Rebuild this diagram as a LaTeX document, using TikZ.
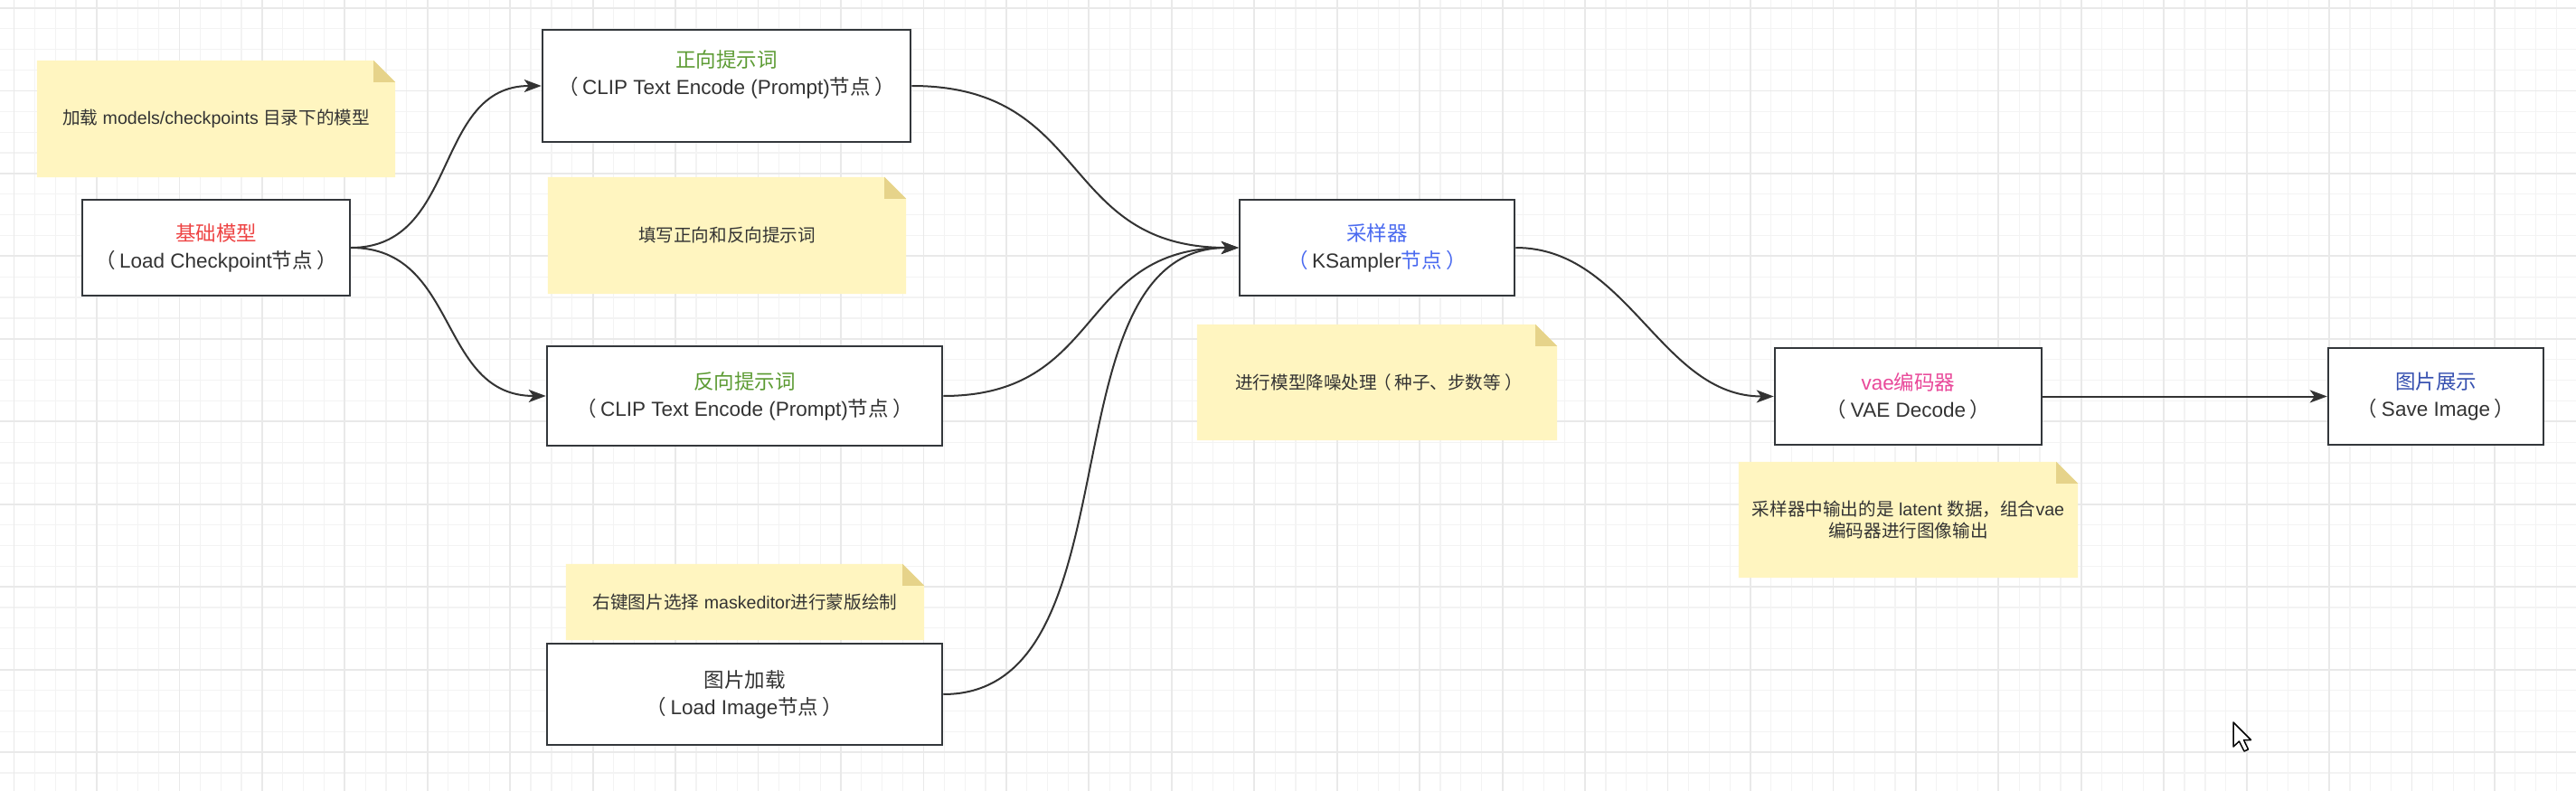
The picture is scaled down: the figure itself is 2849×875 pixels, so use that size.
\documentclass[tikz,border=0pt]{standalone}
\usepackage{fontspec}
\setmainfont{Liberation Sans}
\newfontfamily\cjk{Noto Sans CJK SC}
\newcommand{\lpar}{{\cjk\kern-0.2em（\kern0.2em}}
\newcommand{\rpar}{{\cjk\kern0.2em）\kern-0.2em}}
\usetikzlibrary{arrows.meta,calc}
\definecolor{gridminor}{HTML}{F3F3F3}
\definecolor{gridmajor}{HTML}{E9E9E9}
\definecolor{notefill}{HTML}{FFF5C0}
\definecolor{notefold}{HTML}{E6D38A}
\definecolor{ink}{HTML}{333333}
\definecolor{boxline}{HTML}{33373B}
\definecolor{tred}{HTML}{EE4444}
\definecolor{tgreen}{HTML}{5C9B33}
\definecolor{tblue}{HTML}{4A6AF0}
\definecolor{tpink}{HTML}{E9499A}
\definecolor{tnavy}{HTML}{3650B0}
\pgfdeclarelayer{gridlayer}
\pgfdeclarelayer{notelayer}
\pgfsetlayers{gridlayer,notelayer,main}
\begin{document}
\begin{tikzpicture}[x=1pt,y=-1pt,
  flowbox/.style={draw=boxline, line width=2.5pt, fill=white, inner sep=0pt, rectangle},
  boxtext/.style={text=ink, align=center, font=\fontsize{22.5}{30}\selectfont, inner sep=0pt},
  notearea/.style={text=ink, align=center, font=\fontsize{19.6}{23.5}\selectfont, inner sep=0pt, rectangle},
  link/.style={draw=ink, line width=2pt, -{Stealth[length=19pt,width=14pt,inset=5pt]}},
]
\useasboundingbox (0,0) rectangle (2849,875);

% background grid
\begin{pgfonlayer}{gridlayer}
  \fill[white] (0,0) rectangle (2849,875);
  \foreach \i in {-1,...,125} \draw[gridminor, line width=1.2pt] ({15.5+\i*22.8625},0) -- ({15.5+\i*22.8625},875);
  \foreach \j in {-1,...,38} \draw[gridminor, line width=1.2pt] (0,{9+\j*22.8625}) -- (2849,{9+\j*22.8625});
  \foreach \i in {0,...,31} \draw[gridmajor, line width=1.8pt] ({15.5+\i*91.45},0) -- ({15.5+\i*91.45},875);
  \foreach \j in {0,...,9} \draw[gridmajor, line width=1.8pt] (0,{9+\j*91.45}) -- (2849,{9+\j*91.45});
\end{pgfonlayer}

% boxes
\node[flowbox, minimum width=296pt, minimum height=106pt] (base) at (239,274) {};
\node[boxtext] (baseT) at (base.center) {{\color{tred}\cjk 基础模型}\\\lpar Load Checkpoint{\cjk 节点}\rpar};

\node[flowbox, minimum width=407pt, minimum height=124pt] (pos) at (803.5,95) {};
\node[boxtext] (posT) at ($(pos.center)+(0,-13)$) {{\color{tgreen}\cjk 正向提示词}\\\lpar CLIP Text Encode (Prompt){\cjk 节点}\rpar};

\node[flowbox, minimum width=437pt, minimum height=110pt] (neg) at (823.5,438) {};
\node[boxtext] (negT) at (neg.center) {{\color{tgreen}\cjk 反向提示词}\\\lpar CLIP Text Encode (Prompt){\cjk 节点}\rpar};

\node[flowbox, minimum width=437pt, minimum height=112pt] (load) at (823.5,768) {};
\node[boxtext] (loadT) at (load.center) {{\cjk 图片加载}\\\lpar Load Image{\cjk 节点}\rpar};

\node[flowbox, minimum width=304pt, minimum height=106pt] (ks) at (1523,274) {};
\node[boxtext] (ksT) at (ks.center) {{\color{tblue}\cjk 采样器}\\{\color{tblue}\lpar}KSampler{\color{tblue}\cjk 节点\rpar}};

\node[flowbox, minimum width=295pt, minimum height=107pt] (vae) at (2110.5,438.5) {};
\node[boxtext] (vaeT) at (vae.center) {{\color{tpink}vae\cjk 编码器}\\\lpar VAE Decode\rpar};

\node[flowbox, minimum width=238pt, minimum height=107pt] (save) at (2694,438.5) {};
\node[boxtext] (saveT) at (save.center) {{\color{tnavy}\cjk 图片展示}\\\lpar Save Image\rpar};

% notes
\node[notearea, minimum width=396pt, minimum height=129pt] (n1) at (239,131.5) {{\cjk 加载} models/checkpoints {\cjk 目录下的模型}};
\node[notearea, minimum width=396pt, minimum height=129pt] (n2) at (804,260.5) {{\cjk 填写正向和反向提示词}};
\node[notearea, minimum width=396pt, minimum height=84pt] (n3) at (824,666) {{\cjk 右键图片选择} maskeditor{\cjk 进行蒙版绘制}};
\node[notearea, minimum width=398pt, minimum height=128pt] (n4) at (1523,423) {{\cjk 进行模型降噪处理}\lpar{\cjk 种子、步数等}\rpar};
\node[notearea, minimum width=375pt, minimum height=128pt] (n5) at (2110.5,575) {{\cjk 采样器中输出的是} latent {\cjk 数据，组合}vae\\{\cjk 编码器进行图像输出}};

\begin{pgfonlayer}{notelayer}
\foreach \n in {n1,n2,n3,n4,n5} {
  \fill[notefill] (\n.north west) -- ($(\n.north east)+(-24,0)$) -- ($(\n.north east)+(0,24)$) -- (\n.south east) -- (\n.south west) -- cycle;
  \fill[notefold] ($(\n.north east)+(-24,0)$) -- ($(\n.north east)+(-24,24)$) -- ($(\n.north east)+(0,24)$) -- cycle;
}
\end{pgfonlayer}

% connectors
\draw[link] (base.east) .. controls +(120,0) and +(-120,0) .. (pos.west);
\draw[link] (base.east) .. controls +(120,0) and +(-120,0) .. (neg.west);
\draw[link] (pos.east) .. controls +(200,0) and +(-200,0) .. (ks.west);
\draw[link] (neg.east) .. controls +(180,0) and +(-180,0) .. (ks.west);
\draw[link] (load.east) .. controls +(220,0) and +(-220,0) .. (ks.west);
\draw[link] (ks.east) .. controls +(125,0) and +(-125,0) .. (vae.west);
\draw[link] (vae.east) -- (save.west);

% mouse pointer
\filldraw[fill=white, draw=black, line width=1.5pt, line join=round]
  (2470,799) -- (2470,826) -- (2476.5,820) -- (2482,831) -- (2486.5,829) -- (2481.5,818.5) -- (2489.5,818.5) -- cycle;
\end{tikzpicture}
\end{document}
